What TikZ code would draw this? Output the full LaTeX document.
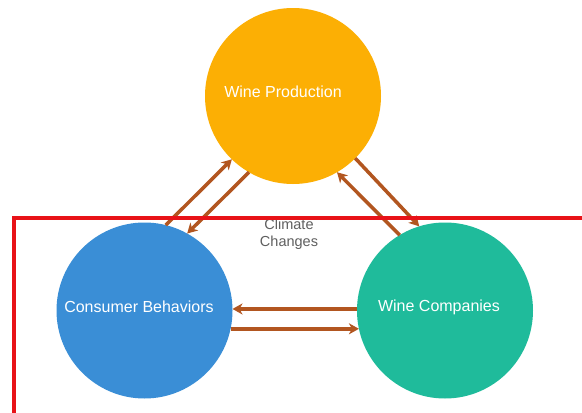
\documentclass[tikz,border=0pt]{standalone}
\usepackage{fontspec}
\setmainfont{Liberation Sans}
\usetikzlibrary{arrows.meta,calc}
\definecolor{prodc}{RGB}{252,175,4}
\definecolor{consc}{RGB}{58,142,214}
\definecolor{compc}{RGB}{31,187,155}
\definecolor{arrowc}{RGB}{178,86,32}
\definecolor{redc}{RGB}{232,18,24}
\definecolor{grayc}{RGB}{95,95,95}
\begin{document}
\begin{tikzpicture}[x=1pt,y=-1pt,
  circ/.style={circle,minimum size=176pt,inner sep=0pt,outer sep=0pt,draw=none},
  lab/.style={text=white,font=\fontsize{16}{19}\selectfont,inner sep=0pt},
  conn/.style={draw=arrowc,line width=3.5pt,-{Stealth[length=10pt,width=11pt,inset=3pt]}}]
\useasboundingbox (0,0) rectangle (582,413);
\clip (0,0) rectangle (582,413);
\fill[white] (0,0) rectangle (582,413);
\node[circ,fill=prodc] (prod) at (293,96) {};
\node[circ,fill=consc] (cons) at (144.5,310.5) {};
\node[circ,fill=compc] (comp) at (445,310.5) {};
\node[lab] (prodtxt) at (283,92) {Wine Production};
\node[lab] (constxt) at (139,307) {Consumer Behaviors};
\node[lab] (comptxt) at (439,307) {Wine Companies};
\node[text=grayc,align=center,font=\fontsize{14.5}{16.5}\selectfont,inner sep=0pt] (climate) at (289,234) {Climate\\Changes};
\draw[conn] (cons.76) -- (prod.226.8);
\draw[conn] (prod.240.5) -- (cons.61);
\draw[conn] (prod.315) -- (comp.107);
\draw[conn] (comp.121.4) -- (prod.300);
\draw[conn] (comp.179) -- (cons.1);
\draw[conn] (cons.-12.1) -- (comp.192.1);
\draw[redc,line width=4pt] (14,218) rectangle (600,414.5);
\end{tikzpicture}
\end{document}
